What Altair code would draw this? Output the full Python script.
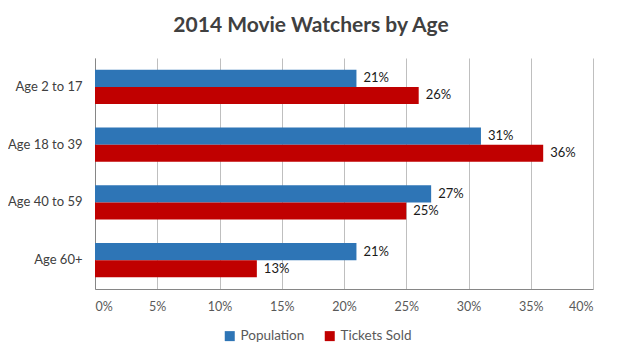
import altair as alt
import pandas as pd

categories = ["Age 2 to 17", "Age 18 to 39", "Age 40 to 59", "Age 60+"]
population = [0.21, 0.31, 0.27, 0.21]
tickets = [0.26, 0.36, 0.25, 0.13]
series = ["Population", "Tickets Sold"]
colors = ["#2E75B6", "#C00000"]

rows = []
for c, p, t in zip(categories, population, tickets):
    rows.append({"Age": c, "Series": series[0], "Value": p})
    rows.append({"Age": c, "Series": series[1], "Value": t})
df = pd.DataFrame(rows)

font = "Lato"

y = alt.Y("Age:N", sort=categories, title=None,
          scale=alt.Scale(paddingInner=0.41, paddingOuter=0.205),
          axis=alt.Axis(labelFont=font, labelFontSize=13, labelColor="#404040",
                        ticks=False, domain=True, domainColor="#868686",
                        labelPadding=13))
yoff = alt.YOffset("Series:N", sort=series, scale=alt.Scale(paddingInner=0, paddingOuter=0))
x = alt.X("Value:Q", title=None,
          scale=alt.Scale(domain=[0, 0.4], nice=False),
          axis=alt.Axis(format=".0%", values=[i * 0.05 for i in range(9)],
                        labelFont=font, labelFontSize=12.5, labelColor="#595959",
                        grid=True, gridColor="#BFBFBF", domainColor="#868686",
                        ticks=False, labelPadding=11))

bars = alt.Chart(df).mark_bar().encode(
    x=x, y=y, yOffset=yoff,
    color=alt.Color("Series:N", sort=series,
                    scale=alt.Scale(domain=series, range=colors),
                    legend=alt.Legend(title=None, orient="none", direction="horizontal",
                                      legendX=128, legendY=271,
                                      symbolType="square", symbolSize=100,
                                      labelFont=font, labelFontSize=13.5,
                                      labelColor="#595959", columnPadding=18,
                                      symbolStrokeWidth=0))
)

labels = alt.Chart(df).mark_text(align="left", baseline="middle", dx=7,
                                 font=font, fontSize=13, fontWeight="normal",
                                 color="#1a1a1a").encode(
    x="Value:Q", y=alt.Y("Age:N", sort=categories), yOffset=alt.YOffset("Series:N", sort=series),
    text=alt.Text("Value:Q", format=".0%")
)

chart = (bars + labels).properties(
    width=498, height=231,
    padding={"left": 87, "top": 50, "right": 22, "bottom": 60},
    autosize=alt.AutoSizeParams(type="none"),
    title=alt.TitleParams("2014 Movie Watchers by Age", font=font, fontSize=21,
                          fontWeight="bold", color="#404040", anchor="middle",
                          dx=-33, offset=22),
    background="white",
).configure_view(stroke=None)

chart.save("out.html", embed_options={"renderer": "svg", "actions": False})
